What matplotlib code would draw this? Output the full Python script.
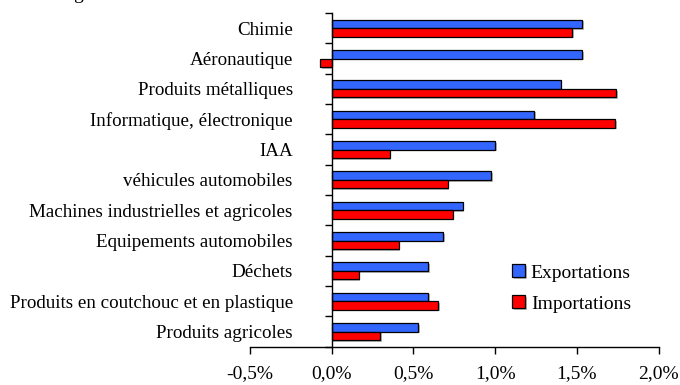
import numpy as np
import matplotlib
matplotlib.use("Agg")
import matplotlib.pyplot as plt
import matplotlib.patheffects as pe

categories = ["Chimie", "Aéronautique", "Produits métalliques",
              "Informatique, électronique", "IAA", "véhicules automobiles",
              "Machines industrielles et agricoles", "Equipements automobiles",
              "Déchets", "Produits en coutchouc et en plastique",
              "Produits agricoles"]
exportations = [1.53, 1.53, 1.40, 1.24, 1.00, 0.975, 0.80, 0.68, 0.59, 0.59, 0.53]
importations = [1.47, -0.07, 1.74, 1.735, 0.355, 0.71, 0.74, 0.41, 0.165, 0.65, 0.295]
xticks = [-0.5, 0.0, 0.5, 1.0, 1.5, 2.0]

plt.rcParams['font.family'] = ['Liberation Serif', 'DejaVu Serif']

fig = plt.figure(figsize=(6.8, 3.85), dpi=100)
ax = fig.add_axes([0.3676, 0.0995, 0.6011, 0.8667])

# spine position first: it resets the ticks
for s in ['top', 'right']:
    ax.spines[s].set_visible(False)
ax.spines['left'].set_position(('data', 0))
ax.spines['left'].set_linewidth(1)
ax.spines['bottom'].set_linewidth(1)

y = np.arange(len(categories))
h = 0.28
shadow = [pe.SimplePatchShadow(offset=(1.2, -1.2), shadow_rgbFace='0.6', alpha=0.7), pe.Normal()]
ax.barh(y - h / 2, exportations, height=h, color='#3366ff', edgecolor='black',
        linewidth=0.9, label='Exportations', path_effects=shadow)
ax.barh(y + h / 2, importations, height=h, color='#ff0000', edgecolor='black',
        linewidth=0.9, label='Importations', path_effects=shadow)

ax.set_xlim(-0.5, 2.0)
ax.set_ylim(len(categories) - 0.5, -0.5)
ax.set_xticks(xticks)
ax.set_xticklabels([("%.1f%%" % v).replace('.', ',') for v in xticks])

ax.set_yticks(y)
ax.set_yticklabels(categories)
ax.set_yticks(np.arange(len(categories) + 1) - 0.5, minor=True)
ax.tick_params(axis='y', which='major', length=0, pad=28, labelsize=13.7)
ax.tick_params(axis='y', which='minor', length=5, width=1, direction='out')
ax.tick_params(axis='x', length=5, width=1, direction='out', pad=8, labelsize=14)

ax.legend(loc='lower right', bbox_to_anchor=(0.975, 0.05), frameon=False, fontsize=14,
          handlelength=0.65, handleheight=0.65, handletextpad=0.3, labelspacing=0.7)

# cut-off title fragment at the top edge
fig.text(73 / 680, 1.003, "g", fontsize=14, va='baseline', ha='left')

fig.savefig("out.png", dpi=100)
